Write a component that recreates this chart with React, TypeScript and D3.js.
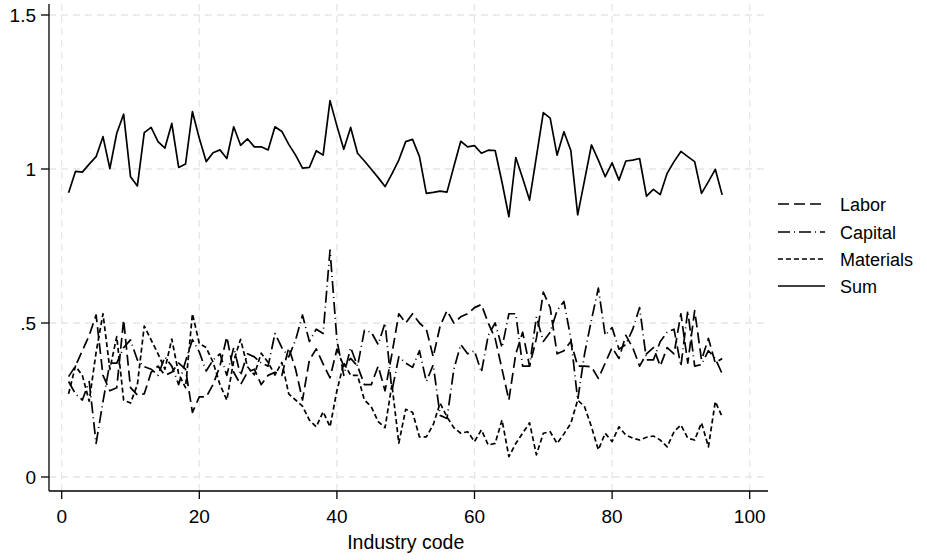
import React from "react";
import * as d3 from "d3";

// industry codes 1..96
const codes = d3.range(1, 97);

const labor = [
  0.326, 0.36, 0.41, 0.46, 0.526, 0.33, 0.28, 0.29, 0.51, 0.29,
  0.266, 0.27, 0.34, 0.36, 0.33, 0.34, 0.37, 0.35, 0.21, 0.26,
  0.26, 0.3, 0.36, 0.455, 0.34, 0.3, 0.34, 0.35, 0.3, 0.33,
  0.34, 0.33, 0.42, 0.35, 0.25, 0.38, 0.416, 0.367, 0.322, 0.415,
  0.36, 0.385, 0.36, 0.3, 0.3, 0.36, 0.28, 0.4, 0.53, 0.5,
  0.53, 0.5, 0.48, 0.39, 0.49, 0.54, 0.5, 0.52, 0.53, 0.55,
  0.56, 0.5, 0.45, 0.35, 0.25, 0.4, 0.47, 0.36, 0.45, 0.6,
  0.55, 0.4, 0.41, 0.44, 0.36, 0.36, 0.358, 0.32, 0.37, 0.42,
  0.385, 0.46, 0.42, 0.36, 0.4, 0.42, 0.36, 0.42, 0.4, 0.53,
  0.37, 0.54, 0.38, 0.45, 0.37, 0.385,
];

const capital = [
  0.31, 0.27, 0.25, 0.31, 0.109, 0.245, 0.37, 0.37, 0.42, 0.445,
  0.38, 0.358, 0.35, 0.33, 0.39, 0.36, 0.3, 0.376, 0.446, 0.406,
  0.344, 0.38, 0.4, 0.33, 0.42, 0.33, 0.4, 0.39, 0.37, 0.36,
  0.466, 0.42, 0.39, 0.445, 0.526, 0.44, 0.48, 0.466, 0.737, 0.445,
  0.33, 0.42, 0.36, 0.476, 0.47, 0.43, 0.5, 0.28, 0.39, 0.37,
  0.356, 0.41, 0.31, 0.364, 0.2, 0.19, 0.35, 0.43, 0.4, 0.41,
  0.34, 0.46, 0.5, 0.42, 0.53, 0.53, 0.36, 0.36, 0.52, 0.44,
  0.47, 0.54, 0.57, 0.45, 0.25, 0.4, 0.51, 0.613, 0.46, 0.485,
  0.415, 0.43, 0.48, 0.55, 0.38, 0.38, 0.44, 0.47, 0.48, 0.36,
  0.54, 0.36, 0.365, 0.41, 0.385, 0.335,
];

const materials = [
  0.27, 0.36, 0.33, 0.246, 0.405, 0.53, 0.35, 0.456, 0.25, 0.24,
  0.3, 0.49, 0.445, 0.4, 0.35, 0.448, 0.335, 0.29, 0.53, 0.434,
  0.42, 0.373, 0.3, 0.25, 0.377, 0.447, 0.358, 0.332, 0.402, 0.372,
  0.331, 0.372, 0.27, 0.25, 0.23, 0.185, 0.163, 0.212, 0.163, 0.28,
  0.37, 0.33, 0.33, 0.25, 0.228, 0.18, 0.16, 0.3, 0.11, 0.22,
  0.21, 0.13, 0.13, 0.17, 0.24, 0.195, 0.16, 0.142, 0.147, 0.115,
  0.153, 0.104, 0.109, 0.185, 0.066, 0.109, 0.142, 0.176, 0.072, 0.142,
  0.147, 0.109, 0.14, 0.174, 0.25, 0.228, 0.163, 0.088, 0.142, 0.115,
  0.163, 0.136, 0.126, 0.12, 0.129, 0.133, 0.12, 0.098, 0.147, 0.169,
  0.126, 0.12, 0.176, 0.098, 0.245, 0.196,
];

const sum = [
  0.923, 0.992, 0.99, 1.016, 1.04, 1.105, 1.001, 1.116, 1.178, 0.975,
  0.945, 1.118, 1.135, 1.089, 1.068, 1.148, 1.005, 1.016, 1.186, 1.1,
  1.024, 1.053, 1.062, 1.034, 1.137, 1.077, 1.098, 1.072, 1.072, 1.062,
  1.137, 1.122, 1.08, 1.045, 1.003, 1.005, 1.059, 1.045, 1.222, 1.14,
  1.064, 1.135, 1.051, 1.026, 0.999, 0.972, 0.943, 0.984, 1.029, 1.089,
  1.096, 1.04, 0.921, 0.924, 0.928, 0.925, 1.008, 1.09, 1.072, 1.076,
  1.051, 1.061, 1.06, 0.957, 0.845, 1.037, 0.97, 0.899, 1.04, 1.183,
  1.165, 1.045, 1.121, 1.06, 0.851, 0.964, 1.078, 1.029, 0.975, 1.02,
  0.964, 1.026, 1.029, 1.034, 0.912, 0.934, 0.917, 0.986, 1.024, 1.057,
  1.04, 1.024, 0.921, 0.959, 0.999, 0.916,
];

const xTicks = [0, 20, 40, 60, 80, 100];
const yTicks = [0, 0.5, 1, 1.5];
const yTickLabels = ["0", ".5", "1", "1.5"];
const seriesNames = ["Labor", "Capital", "Materials", "Sum"];
const xTitle = "Industry code";

const W = 927;
const H = 560;
const font = "'Liberation Sans', Arial, Helvetica, sans-serif";

export default function App() {
  const x = d3.scaleLinear().domain([0, 100]).range([61.7, 749.7]);
  const y = d3.scaleLinear().domain([0, 1.5]).range([477, 15]);

  const plotLeft = 49;
  const plotRight = 768;
  const plotTop = 4;
  const plotBottom = 491;

  const line = d3
    .line<number>()
    .x((d, i) => x(codes[i]))
    .y((d) => y(d));

  const series = [
    { name: seriesNames[0], values: labor, dash: "11,5" },
    { name: seriesNames[1], values: capital, dash: "12,4,1,4" },
    { name: seriesNames[2], values: materials, dash: "5,3" },
    { name: seriesNames[3], values: sum, dash: "none" },
  ];

  const legendY = [204, 232, 259, 286];

  return (
    <svg
      width={W}
      height={H}
      style={{ position: "absolute", left: 0, top: 0, background: "#fff" }}
      fontFamily={font}
    >
      {/* grid */}
      {yTicks.map((t) => (
        <line
          key={"gy" + t}
          x1={plotLeft}
          x2={plotRight}
          y1={y(t)}
          y2={y(t)}
          stroke="#e6e6e6"
          strokeWidth={1.3}
          strokeDasharray="7,5"
        />
      ))}
      {xTicks.map((t) => (
        <line
          key={"gx" + t}
          x1={x(t)}
          x2={x(t)}
          y1={plotTop}
          y2={plotBottom}
          stroke="#e6e6e6"
          strokeWidth={1.3}
          strokeDasharray="7,5"
        />
      ))}

      {/* series */}
      {series.map((s) => (
        <path
          key={s.name}
          d={line(s.values) || ""}
          fill="none"
          stroke="#000"
          strokeWidth={1.7}
          strokeDasharray={s.dash}
          strokeLinejoin="round"
        />
      ))}

      {/* axes */}
      <line x1={plotLeft} x2={plotLeft} y1={plotTop} y2={plotBottom} stroke="#000" strokeWidth={1.3} />
      <line x1={plotLeft} x2={plotRight} y1={plotBottom} y2={plotBottom} stroke="#000" strokeWidth={1.3} />
      {yTicks.map((t, i) => (
        <g key={"ty" + t}>
          <line x1={plotLeft - 8} x2={plotLeft} y1={y(t)} y2={y(t)} stroke="#000" strokeWidth={1.3} />
          <text x={plotLeft - 13} y={y(t) + 7} textAnchor="end" fontSize={19} fill="#000">
            {yTickLabels[i]}
          </text>
        </g>
      ))}
      {xTicks.map((t) => (
        <g key={"tx" + t}>
          <line x1={x(t)} x2={x(t)} y1={plotBottom} y2={plotBottom + 8} stroke="#000" strokeWidth={1.3} />
          <text x={x(t)} y={523} textAnchor="middle" fontSize={19} fill="#000">
            {t}
          </text>
        </g>
      ))}
      <text x={(x(0) + x(100)) / 2} y={549} textAnchor="middle" fontSize={19.5} fill="#000">
        {xTitle}
      </text>

      {/* legend */}
      {series.map((s, i) => (
        <g key={"lg" + s.name}>
          <line
            x1={778}
            x2={825}
            y1={legendY[i]}
            y2={legendY[i]}
            stroke="#000"
            strokeWidth={1.7}
            strokeDasharray={s.dash}
          />
          <text x={840} y={legendY[i] + 6.5} fontSize={18} fill="#000">
            {s.name}
          </text>
        </g>
      ))}
    </svg>
  );
}
